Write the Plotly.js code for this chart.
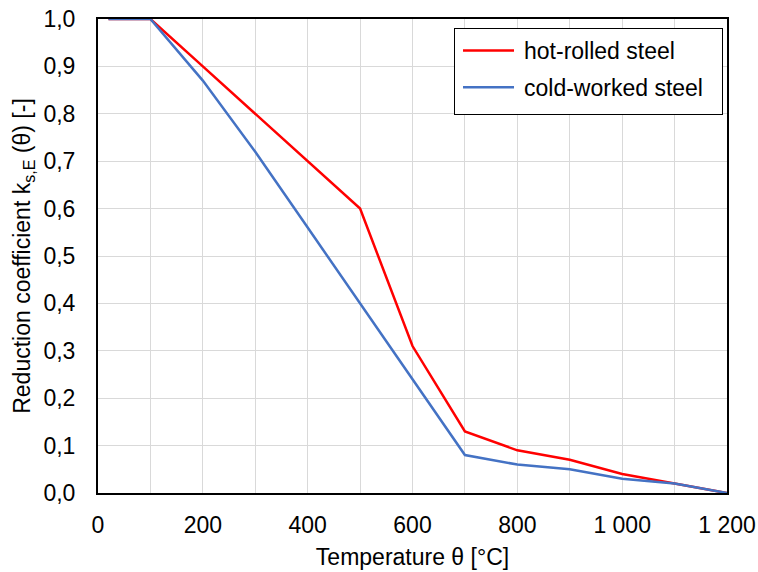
<!DOCTYPE html>
<html><head><meta charset="utf-8">
<script src="https://cdn.plot.ly/plotly-3.0.1.min.js"></script>
<style>body{margin:0;}#c{width:758px;height:572px;}</style>
</head><body><div id="c"></div>
<script>
const temperature = [20, 100, 200, 300, 400, 500, 600, 700, 800, 900, 1000, 1100, 1200];
const hotRolled = [1.0, 1.0, 0.9, 0.8, 0.7, 0.6, 0.31, 0.13, 0.09, 0.07, 0.04, 0.02, 0.0];
const coldWorked = [1.0, 1.0, 0.87, 0.72, 0.56, 0.40, 0.24, 0.08, 0.06, 0.05, 0.03, 0.02, 0.0];
const seriesNames = ["hot-rolled steel", "cold-worked steel"];

const fnt = {family: "Liberation Sans, Arial, sans-serif", size: 23, color: "#000"};
const data = [
  {x: temperature, y: hotRolled, type: "scatter", mode: "lines", name: seriesNames[0], legendgroup: "a", line: {color: "#FF0000", width: 2.5}},
  {x: temperature, y: coldWorked, type: "scatter", mode: "lines", name: seriesNames[1], legendgroup: "b", line: {color: "#4472C4", width: 2.5}}
];
const layout = {
  width: 758, height: 572,
  margin: {l: 98, r: 31, t: 19, b: 79},
  paper_bgcolor: "#fff", plot_bgcolor: "#fff",
  separators: ", ",
  font: fnt,
  showlegend: true,
  legend: {x: 0.566, xanchor: "left", y: 0.981, yanchor: "top", bordercolor: "#000", borderwidth: 1, bgcolor: "#fff", font: fnt, itemwidth: 59, tracegroupgap: 4},
  xaxis: {
    range: [0, 1200], dtick: 200, tick0: 0, tickformat: ",d",
    showgrid: true, gridcolor: "#D9D9D9", gridwidth: 1,
    minor: {dtick: 100, showgrid: true, gridcolor: "#D9D9D9", gridwidth: 1},
    showline: true, linecolor: "#000", linewidth: 2, mirror: true,
    ticks: "", zeroline: false, tickfont: fnt, ticklabelstandoff: 10,
    title: {text: "Temperature θ [°C]", font: fnt, standoff: 12}
  },
  yaxis: {
    range: [0, 1.0], dtick: 0.1, tickformat: ".1f",
    showgrid: true, gridcolor: "#D9D9D9", gridwidth: 1,
    showline: true, linecolor: "#000", linewidth: 2, mirror: true,
    ticks: "", zeroline: false, tickfont: fnt, ticklabelstandoff: 16,
    title: {text: "Reduction coefficient k<sub>s,E</sub> (θ) [-]", font: fnt, standoff: 6}
  }
};
Plotly.newPlot("c", data, layout, {displayModeBar: false, staticPlot: true}).then(function (gd) {
  gd.querySelectorAll(".legend .legendlines path").forEach(function (p) {
    p.setAttribute("d", "M8,0h51");
  });
  const bg = gd.querySelector(".legend rect.bg");
  if (bg) {
    const w = parseFloat(bg.getAttribute("width"));
    const h = parseFloat(bg.getAttribute("height"));
    const r = gd.getBoundingClientRect();
    const legendBox = gd.querySelector(".legend").getBoundingClientRect();
    const targetRight = 722 - (legendBox.left - r.left);
    if (targetRight > w) bg.setAttribute("width", targetRight);
    bg.setAttribute("height", h + 5);
  }
});
</script></body></html>
